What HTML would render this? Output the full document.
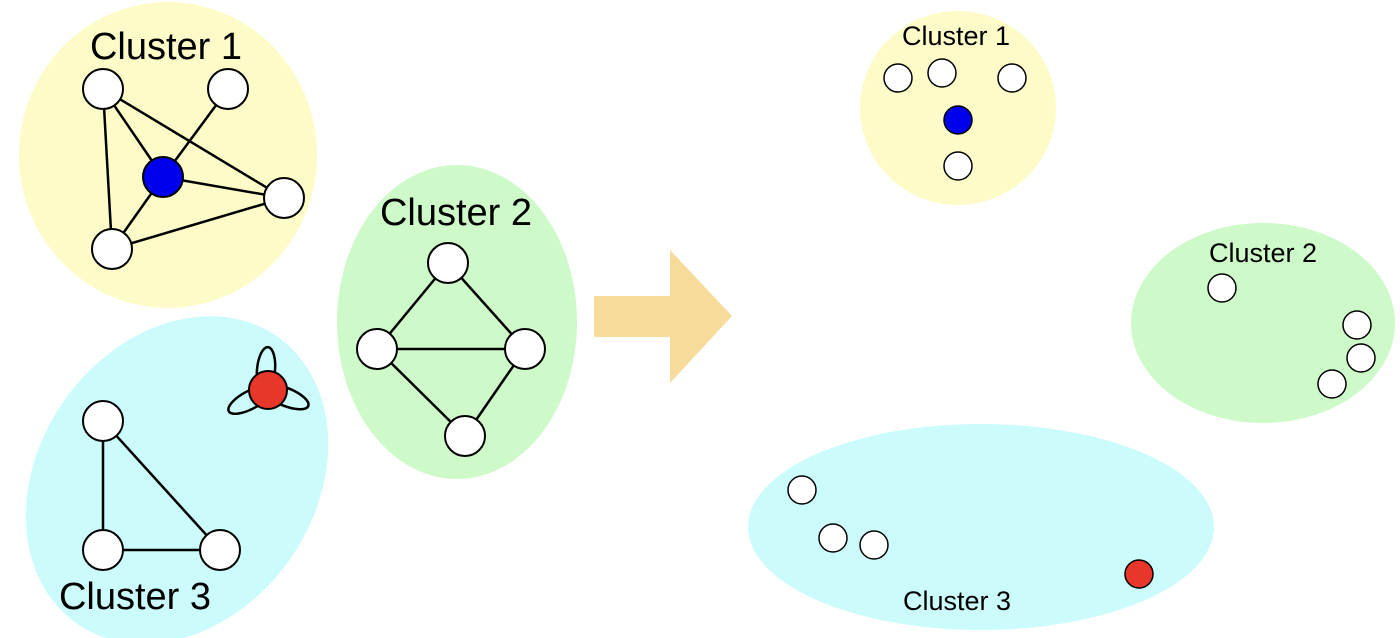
<!DOCTYPE html>
<html><head><meta charset="utf-8"><style>html,body{margin:0;background:#fff;overflow:hidden;width:1400px;height:638px}svg{display:block}</style></head><body>
<svg width="1400" height="638" viewBox="0 0 1400 638" xmlns="http://www.w3.org/2000/svg" font-family="Liberation Sans, sans-serif">
<ellipse cx="168" cy="155" rx="149" ry="153" fill="#fdfcc8"/>
<ellipse cx="457" cy="322" rx="120" ry="157" fill="#cdfac8"/>
<ellipse cx="177" cy="480" rx="138" ry="175" transform="rotate(35 177 480)" fill="#cbfbfb"/>
<ellipse cx="958" cy="108" rx="98" ry="97" fill="#fdfcc8"/>
<ellipse cx="1263" cy="323" rx="132" ry="100" fill="#cdfac8"/>
<ellipse cx="981" cy="527" rx="233" ry="103" fill="#cbfbfb"/>
<g stroke="#000" stroke-width="2.5">
<line x1="103" y1="89" x2="112" y2="249"/><line x1="103" y1="89" x2="163" y2="177"/><line x1="103" y1="89" x2="284" y2="198"/>
<line x1="228" y1="89" x2="163" y2="177"/><line x1="163" y1="177" x2="284" y2="198"/><line x1="163" y1="177" x2="112" y2="249"/>
<line x1="112" y1="249" x2="284" y2="198"/>
<line x1="448" y1="263" x2="377" y2="349"/><line x1="448" y1="263" x2="525" y2="349"/><line x1="377" y1="349" x2="525" y2="349"/>
<line x1="377" y1="349" x2="465" y2="436"/><line x1="525" y1="349" x2="465" y2="436"/>
<line x1="103" y1="421" x2="103" y2="550"/><line x1="103" y1="421" x2="220" y2="550"/><line x1="103" y1="550" x2="220" y2="550"/>
</g>
<g fill="none" stroke="#000" stroke-width="2.5">
<ellipse cx="266" cy="370" rx="9" ry="23" transform="rotate(5 266 370)"/>
<ellipse cx="286" cy="397" rx="9" ry="24" transform="rotate(-68 286 397)"/>
<ellipse cx="250" cy="400" rx="9" ry="24" transform="rotate(62 250 400)"/>
</g>
<g stroke="#000" stroke-width="2" fill="#fff">
<circle cx="103" cy="89" r="20"/><circle cx="228" cy="89" r="20"/><circle cx="163" cy="177" r="20" fill="#0000ee"/>
<circle cx="284" cy="198" r="20"/><circle cx="112" cy="249" r="20"/>
<circle cx="448" cy="263" r="20"/><circle cx="377" cy="349" r="20"/><circle cx="525" cy="349" r="20"/><circle cx="465" cy="436" r="20"/>
<circle cx="103" cy="421" r="20"/><circle cx="103" cy="550" r="20"/><circle cx="220" cy="550" r="20"/>
<circle cx="268" cy="390" r="19" fill="#e8372a"/>
</g>
<g stroke="#000" stroke-width="1.5" fill="#fff">
<circle cx="898" cy="78" r="14"/><circle cx="942" cy="73" r="14"/><circle cx="1012" cy="78" r="14"/><circle cx="958" cy="120" r="14" fill="#0000ee"/><circle cx="958" cy="166" r="14"/>
<circle cx="1222" cy="288" r="14"/><circle cx="1357" cy="325" r="14"/><circle cx="1361" cy="358" r="14"/><circle cx="1332" cy="384" r="14"/>
<circle cx="802" cy="490" r="14"/><circle cx="833" cy="538" r="14"/><circle cx="874" cy="545" r="14"/><circle cx="1139" cy="574" r="14" fill="#e8372a"/>
</g>
<path d="M594 296 H670 V250 L732 316 L670 383 V337 H594 Z" fill="#f7db9b"/>
<g font-size="38" text-anchor="middle" fill="#000">
<text x="166" y="59">Cluster 1</text><text x="456" y="225">Cluster 2</text><text x="135" y="609">Cluster 3</text>
</g>
<g font-size="27" text-anchor="middle" fill="#000">
<text x="956" y="45">Cluster 1</text><text x="1263" y="262">Cluster 2</text><text x="957" y="610">Cluster 3</text>
</g>
</svg>
</body></html>
